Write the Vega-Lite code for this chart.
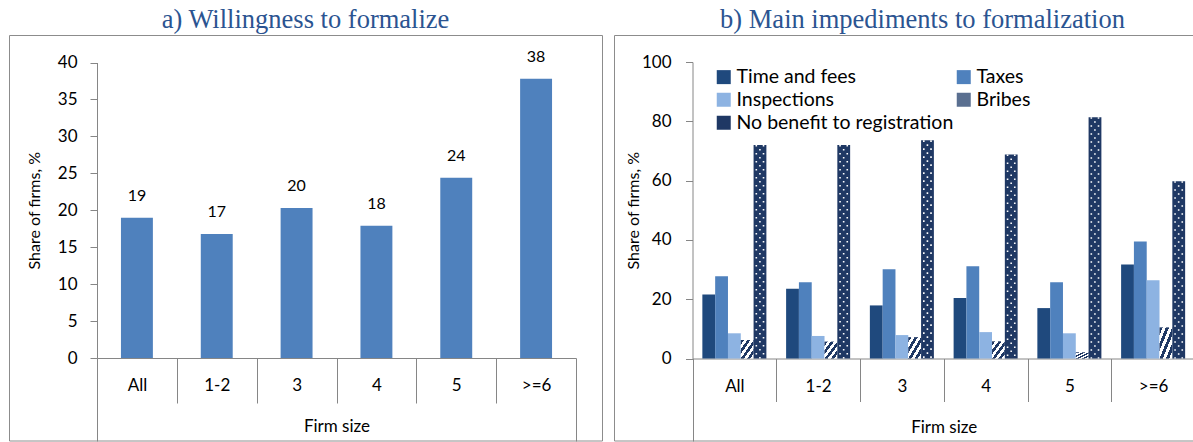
{
  "$schema": "https://vega.github.io/schema/vega-lite/v6.json",
  "padding": {"left": 8, "top": 6, "right": 0, "bottom": 0},
  "spacing": 10,
  "config": {
    "view": {"stroke": "#8c8c8c", "strokeWidth": 1},
    "font": "Lato",
    "axis": {
      "labelFont": "Lato", "labelFontSize": 17, "labelColor": "#000000",
      "titleFont": "Lato", "titleFontSize": 17, "titleFontWeight": "normal", "titleColor": "#000000",
      "domainColor": "#868686", "tickColor": "#868686", "grid": false
    },
    "title": {"font": "Liberation Serif", "fontSize": 26.5, "fontWeight": "normal", "color": "#2B5491", "offset": 2}
  },
  "datasets": {
    "willing": [
      {"size": "All", "share": 19.0},
      {"size": "1-2", "share": 16.8},
      {"size": "3", "share": 20.3},
      {"size": "4", "share": 17.9},
      {"size": "5", "share": 24.4},
      {"size": ">=6", "share": 37.8}
    ],
    "imped": [
      {"size": "All", "series": "Time and fees", "share": 21.6},
      {"size": "All", "series": "Taxes", "share": 27.7},
      {"size": "All", "series": "Inspections", "share": 8.5},
      {"size": "All", "series": "Bribes", "share": 6.2},
      {"size": "All", "series": "No benefit to registration", "share": 72.0},
      {"size": "1-2", "series": "Time and fees", "share": 23.5},
      {"size": "1-2", "series": "Taxes", "share": 25.7},
      {"size": "1-2", "series": "Inspections", "share": 7.6},
      {"size": "1-2", "series": "Bribes", "share": 5.7},
      {"size": "1-2", "series": "No benefit to registration", "share": 72.0},
      {"size": "3", "series": "Time and fees", "share": 17.9},
      {"size": "3", "series": "Taxes", "share": 30.1},
      {"size": "3", "series": "Inspections", "share": 7.9},
      {"size": "3", "series": "Bribes", "share": 7.2},
      {"size": "3", "series": "No benefit to registration", "share": 73.6},
      {"size": "4", "series": "Time and fees", "share": 20.4},
      {"size": "4", "series": "Taxes", "share": 31.1},
      {"size": "4", "series": "Inspections", "share": 8.9},
      {"size": "4", "series": "Bribes", "share": 5.8},
      {"size": "4", "series": "No benefit to registration", "share": 68.8},
      {"size": "5", "series": "Time and fees", "share": 17.0},
      {"size": "5", "series": "Taxes", "share": 25.7},
      {"size": "5", "series": "Inspections", "share": 8.5},
      {"size": "5", "series": "Bribes", "share": 2.1},
      {"size": "5", "series": "No benefit to registration", "share": 81.4},
      {"size": ">=6", "series": "Time and fees", "share": 31.7},
      {"size": ">=6", "series": "Taxes", "share": 39.5},
      {"size": ">=6", "series": "Inspections", "share": 26.4},
      {"size": ">=6", "series": "Bribes", "share": 10.5},
      {"size": ">=6", "series": "No benefit to registration", "share": 59.8}
    ]
  },
  "hconcat": [
    {
      "width": 593,
      "height": 405.5,
      "title": {"text": "a) Willingness to formalize"},
      "data": {"name": "willing"},
      "encoding": {
        "x": {
          "field": "size", "type": "nominal",
          "sort": ["All", "1-2", "3", "4", "5", ">=6"],
          "scale": {"range": [88, 567], "paddingInner": 0, "paddingOuter": 0},
          "axis": {
            "orient": "bottom", "offset": -82.5, "title": "Firm size",
            "titleY": 68.5, "titleBaseline": "middle",
            "labelAngle": 0, "labelBaseline": "middle",
            "tickBand": "extent",
            "tickSize": {"condition": {"test": "datum.index === -1 || datum.value === '>=6'", "value": 83}, "value": 45},
            "labelPadding": {"condition": {"test": "datum.value === '>=6'", "value": -55.5}, "value": -17.5}
          }
        },
        "y": {
          "field": "share", "type": "quantitative",
          "scale": {"domain": [0, 40], "range": [323, 27.5]},
          "axis": {
            "orient": "left", "offset": -88, "values": [0, 5, 10, 15, 20, 25, 30, 35, 40],
            "title": "Share of firms, %", "titleX": -63, "titleBaseline": "middle", "titleFontSize": 16,
            "tickSize": 7, "labelPadding": 13
          }
        }
      },
      "layer": [
        {"mark": {"type": "bar", "color": "#4F81BD", "width": {"band": 0.4}}},
        {
          "mark": {"type": "text", "dy": -22, "fontSize": 16, "font": "Lato", "color": "#000000"},
          "encoding": {"text": {"field": "share", "type": "quantitative", "format": ".0f"}}
        }
      ]
    },
    {
      "width": 581,
      "height": 405.5,
      "title": {"text": "b) Main impediments to formalization", "dx": 18},
      "data": {"name": "imped"},
      "encoding": {
        "x": {
          "field": "size", "type": "nominal",
          "sort": ["All", "1-2", "3", "4", "5", ">=6"],
          "scale": {"range": [78.5, 581], "paddingInner": 0, "paddingOuter": 0},
          "axis": {
            "orient": "bottom", "offset": -82, "title": "Firm size",
            "titleY": 69, "titleBaseline": "middle",
            "labelAngle": 0, "labelBaseline": "middle",
            "tickBand": "extent",
            "tickSize": {"condition": {"test": "datum.index === -1 || datum.value === '>=6'", "value": 82.5}, "value": 43},
            "labelPadding": {"condition": {"test": "datum.value === '>=6'", "value": -54.5}, "value": -15}
          }
        },
        "y": {
          "field": "share", "type": "quantitative",
          "scale": {"domain": [0, 100], "range": [323.5, 27]},
          "axis": {
            "orient": "left", "offset": -78.5, "values": [0, 20, 40, 60, 80, 100],
            "title": "Share of firms, %", "titleX": -59.5, "titleBaseline": "middle", "titleFontSize": 16,
            "tickSize": 7, "labelPadding": 14.5
          }
        }
      },
      "layer": [
        {
          "mark": {"type": "bar"},
          "encoding": {
            "xOffset": {
              "field": "series", "type": "nominal",
              "sort": ["Time and fees", "Taxes", "Inspections", "Bribes", "No benefit to registration"],
              "scale": {"paddingInner": 0, "paddingOuter": 0.77}
            },
            "fill": {
              "condition": {
                "test": "datum.series === 'Bribes'",
                "value": {
                  "gradient": "linear", "x1": 0, "y1": 0, "x2": 1, "y2": 1,
                  "stops": [
                    {"offset": 0, "color": "#1F3864"}, {"offset": 0.125, "color": "#1F3864"},
                    {"offset": 0.125, "color": "#ffffff"}, {"offset": 0.25, "color": "#ffffff"},
                    {"offset": 0.25, "color": "#1F3864"}, {"offset": 0.375, "color": "#1F3864"},
                    {"offset": 0.375, "color": "#ffffff"}, {"offset": 0.5, "color": "#ffffff"},
                    {"offset": 0.5, "color": "#1F3864"}, {"offset": 0.625, "color": "#1F3864"},
                    {"offset": 0.625, "color": "#ffffff"}, {"offset": 0.75, "color": "#ffffff"},
                    {"offset": 0.75, "color": "#1F3864"}, {"offset": 0.875, "color": "#1F3864"},
                    {"offset": 0.875, "color": "#ffffff"}, {"offset": 1, "color": "#ffffff"}
                  ]
                }
              },
              "field": "series", "type": "nominal",
              "scale": {
                "domain": ["Time and fees", "Taxes", "Inspections", "Bribes", "No benefit to registration"],
                "range": ["#1F497D", "#4F81BD", "#8DB3E2", "#5A6F90", "#1F3864"]
              },
              "legend": {
                "orient": "none", "legendX": 705, "legendY": 32, "columns": 2, "direction": "horizontal",
                "title": null, "padding": 0,
                "symbolType": "square", "symbolSize": 196, "symbolStrokeWidth": 0,
                "labelFont": "Lato", "labelFontSize": 19.5, "labelColor": "#000000",
                "labelOffset": 3, "rowPadding": 2, "columnPadding": -25, "labelLimit": 400
              }
            }
          }
        },
        {
          "transform": [{"filter": "datum.series === 'No benefit to registration'"}],
          "mark": {"type": "rule", "stroke": "#ffffff", "strokeWidth": 1.6, "strokeDash": [1.6, 6.4], "xOffset": -3.6},
          "encoding": {"x": {"field": "size", "type": "nominal", "bandPosition": 0.805}, "y2": {"datum": 0}}
        },
        {
          "transform": [{"filter": "datum.series === 'No benefit to registration'"}],
          "mark": {"type": "rule", "stroke": "#ffffff", "strokeWidth": 1.6, "strokeDash": [1.6, 6.4], "strokeDashOffset": 4},
          "encoding": {"x": {"field": "size", "type": "nominal", "bandPosition": 0.805}, "y2": {"datum": 0}}
        },
        {
          "transform": [{"filter": "datum.series === 'No benefit to registration'"}],
          "mark": {"type": "rule", "stroke": "#ffffff", "strokeWidth": 1.6, "strokeDash": [1.6, 6.4], "xOffset": 3.6},
          "encoding": {"x": {"field": "size", "type": "nominal", "bandPosition": 0.805}, "y2": {"datum": 0}}
        }
      ]
    }
  ]
}
